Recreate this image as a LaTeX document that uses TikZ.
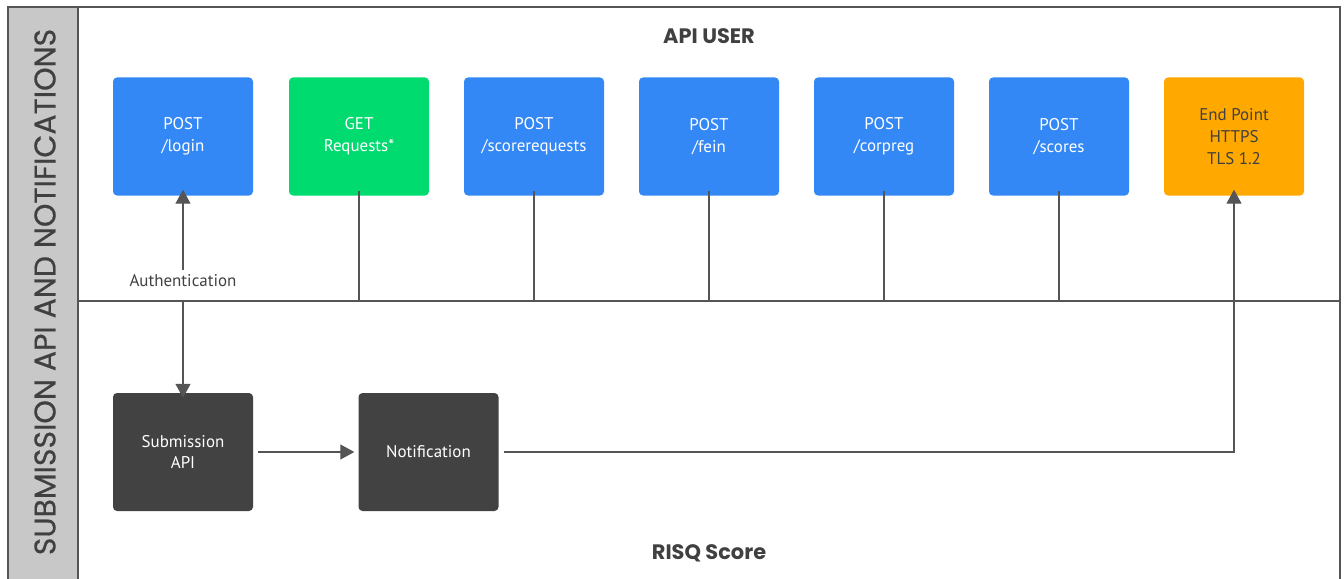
\documentclass[tikz,border=0pt]{standalone}
\usepackage{fontspec}
\setmainfont{PT Sans}
\newfontfamily\sidefont[FakeBold=0.6]{Poppins}
\newfontfamily\titlefont{Poppins}
\usetikzlibrary{arrows.meta}
\definecolor{apiblue}{HTML}{3388F5}
\definecolor{apigreen}{HTML}{00DB70}
\definecolor{apiorange}{HTML}{FFA800}
\definecolor{apidark}{HTML}{424242}
\definecolor{sidegray}{HTML}{C8C8C8}
\definecolor{linegray}{HTML}{555555}
\definecolor{textgray}{HTML}{404040}
\tikzset{
  x=1bp, y=-1bp,
  box/.style={rounded corners=4bp, minimum width=140bp, minimum height=118bp, inner sep=0pt, align=center, font=\fontsize{17}{22}\selectfont, text=white},
  bluebox/.style={box, fill=apiblue},
  greenbox/.style={box, fill=apigreen},
  orangebox/.style={box, fill=apiorange, text=textgray},
  darkbox/.style={box, fill=apidark},
  conn/.style={draw=linegray, line width=1.3bp},
  arr/.style={conn, -{Triangle[length=14bp, width=15bp]}},
  frame/.style={draw=linegray, line width=1.8bp},
  title/.style={font=\titlefont\fontsize{21}{24}\selectfont\bfseries, text=textgray},
}
\begin{document}
\begin{tikzpicture}
\useasboundingbox (0,0) rectangle (1344,579);
% frame and sidebar
\fill[sidegray] (8,7) rectangle (78,579);
\draw[frame] (8,579) -- (8,7) -- (1340,7) -- (1340,579);
\draw[frame] (78,7) -- (78,579);
\draw[frame] (78,301) -- (1340,301);
\node[rotate=90, font=\sidefont\fontsize{30}{34}\selectfont, text=textgray] (side) at (45,292) {SUBMISSION API AND NOTIFICATIONS};
% titles
\node[title] (apiuser) at (709,36) {API USER};
\node[title] (risq) at (709,553) {RISQ Score};
% top row
\node[bluebox] (login) at (183,136.5) {POST\\/login};
\node[greenbox] (get) at (359,136.5) {GET\\Requests*};
\node[bluebox] (sreq) at (534,136.5) {POST\\/scorerequests};
\node[bluebox] (fein) at (709,136.5) {POST\\/fein};
\node[bluebox] (corp) at (884,136.5) {POST\\/corpreg};
\node[bluebox] (scores) at (1059,136.5) {POST\\/scores};
\node[orangebox] (endp) at (1234,136.5) {End Point\\HTTPS\\TLS 1.2};
% bottom row
\node[darkbox] (sub) at (183,452) {Submission\\API};
\node[darkbox] (notif) at (428.5,452) {Notification};
% connectors to divider
\foreach \n in {get,sreq,fein,corp,scores}{
  \draw[conn] ([yshift=5bp]\n.south) -- (\n.south |- 0,301);
}
% authentication
\node[font=\fontsize{17}{20}\selectfont, text=textgray] (auth) at (183,281) {Authentication};
\draw[arr] (auth.north) ++(0,-1) -- ([yshift=6bp]login.south);
\coordinate (div) at (183,301);
\draw[arr] (div) -- ([yshift=-5bp]sub.north);
\draw[arr] ([xshift=5bp]sub.east) -- ([xshift=-4bp]notif.west);
\coordinate (turn) at (1234,452);
\draw[arr] ([xshift=5bp]notif.east) -- (turn) -- ([yshift=6bp]endp.south);
\end{tikzpicture}
\end{document}
